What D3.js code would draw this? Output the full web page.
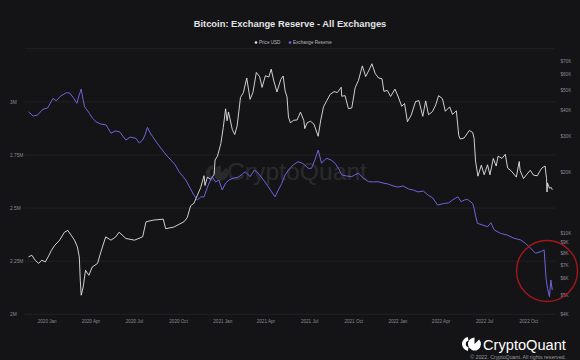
<!DOCTYPE html>
<html><head><meta charset="utf-8">
<script src="https://cdn.jsdelivr.net/npm/d3@7"></script>
<style>
html,body{margin:0;padding:0;background:#141417;}
svg{display:block;}
text{font-family:"Liberation Sans",Arial,sans-serif;}
</style></head><body>
<svg id="chart" width="580" height="360"></svg>
<script>
const reserveDates = ["2019-11-24","2019-12-04","2019-12-13","2019-12-24","2020-01-03","2020-01-14","2020-01-21","2020-01-30","2020-02-11","2020-02-18","2020-02-26","2020-03-04","2020-03-08","2020-03-13","2020-03-17","2020-03-20","2020-03-30","2020-04-05","2020-04-13","2020-04-22","2020-05-04","2020-05-14","2020-05-23","2020-06-01","2020-06-14","2020-06-23","2020-07-05","2020-07-12","2020-07-19","2020-07-24","2020-07-29","2020-08-04","2020-08-09","2020-08-18","2020-08-29","2020-09-08","2020-09-16","2020-09-25","2020-10-03","2020-10-17","2020-10-26","2020-11-03","2020-11-10","2020-11-17","2020-11-24","2020-12-02","2020-12-11","2020-12-18","2020-12-25","2021-01-01","2021-01-08","2021-01-15","2021-01-25","2021-02-04","2021-02-18","2021-02-28","2021-03-09","2021-03-17","2021-03-28","2021-04-07","2021-04-14","2021-04-21","2021-04-28","2021-05-05","2021-05-12","2021-05-19","2021-05-29","2021-06-08","2021-06-16","2021-06-22","2021-06-29","2021-07-06","2021-07-13","2021-07-20","2021-07-27","2021-08-02","2021-08-07","2021-08-16","2021-08-24","2021-08-31","2021-09-07","2021-09-17","2021-09-28","2021-10-04","2021-10-12","2021-10-22","2021-11-02","2021-11-12","2021-11-22","2021-12-02","2021-12-13","2021-12-23","2022-01-03","2022-01-13","2022-01-24","2022-02-03","2022-02-13","2022-02-24","2022-03-06","2022-03-16","2022-03-26","2022-04-09","2022-04-18","2022-04-26","2022-05-07","2022-05-14","2022-05-21","2022-05-27","2022-06-07","2022-06-10","2022-06-13","2022-06-17","2022-06-28","2022-07-08","2022-07-15","2022-07-22","2022-08-04","2022-08-18","2022-09-01","2022-09-15","2022-09-25","2022-10-06","2022-10-16","2022-10-27","2022-11-03","2022-11-07","2022-11-10","2022-11-14","2022-11-17","2022-11-20"];
const reserveValues = [2.953,2.933,2.938,2.965,2.971,3.016,3.005,3.027,3.043,3.041,3.018,2.993,3.027,3.060,3.008,2.977,2.946,2.924,2.906,2.896,2.891,2.852,2.863,2.859,2.820,2.834,2.828,2.806,2.820,2.844,2.880,2.853,2.836,2.806,2.773,2.745,2.726,2.703,2.671,2.632,2.594,2.561,2.538,2.552,2.553,2.604,2.648,2.623,2.632,2.585,2.618,2.632,2.641,2.646,2.671,2.648,2.679,2.664,2.632,2.600,2.576,2.553,2.585,2.616,2.656,2.679,2.703,2.718,2.712,2.703,2.687,2.687,2.726,2.773,2.711,2.726,2.734,2.726,2.711,2.688,2.656,2.651,2.648,2.656,2.664,2.641,2.624,2.623,2.624,2.618,2.613,2.604,2.599,2.604,2.590,2.585,2.576,2.580,2.561,2.547,2.514,2.522,2.524,2.538,2.553,2.530,2.538,2.541,2.522,2.499,2.463,2.428,2.420,2.412,2.431,2.397,2.381,2.373,2.358,2.350,2.334,2.311,2.287,2.295,2.303,2.169,2.122,2.083,2.161,2.114];
const priceDates = ["2019-11-24","2019-12-01","2019-12-08","2019-12-15","2019-12-22","2019-12-29","2020-01-04","2020-01-11","2020-01-18","2020-01-28","2020-02-07","2020-02-14","2020-02-21","2020-02-28","2020-03-05","2020-03-09","2020-03-11","2020-03-13","2020-03-17","2020-03-22","2020-03-29","2020-04-05","2020-04-16","2020-04-23","2020-05-03","2020-05-14","2020-05-24","2020-05-31","2020-06-14","2020-07-02","2020-07-19","2020-07-26","2020-08-10","2020-08-31","2020-09-05","2020-09-22","2020-10-13","2020-10-20","2020-10-27","2020-11-03","2020-11-10","2020-11-17","2020-11-24","2020-11-26","2020-12-01","2020-12-08","2020-12-15","2020-12-17","2020-12-22","2020-12-29","2021-01-03","2021-01-08","2021-01-11","2021-01-14","2021-01-22","2021-01-27","2021-02-01","2021-02-08","2021-02-14","2021-02-21","2021-02-28","2021-03-06","2021-03-13","2021-03-20","2021-03-25","2021-04-01","2021-04-08","2021-04-13","2021-04-18","2021-04-25","2021-05-03","2021-05-08","2021-05-12","2021-05-16","2021-05-19","2021-05-23","2021-05-30","2021-06-06","2021-06-13","2021-06-20","2021-06-22","2021-06-27","2021-07-04","2021-07-11","2021-07-20","2021-07-25","2021-07-31","2021-08-07","2021-08-14","2021-08-22","2021-08-29","2021-09-06","2021-09-07","2021-09-14","2021-09-21","2021-09-28","2021-10-05","2021-10-12","2021-10-20","2021-10-27","2021-11-03","2021-11-09","2021-11-16","2021-11-23","2021-11-30","2021-12-04","2021-12-11","2021-12-18","2021-12-27","2022-01-03","2022-01-10","2022-01-16","2022-01-22","2022-01-30","2022-02-08","2022-02-15","2022-02-23","2022-03-01","2022-03-07","2022-03-15","2022-03-22","2022-03-28","2022-04-05","2022-04-11","2022-04-20","2022-04-26","2022-05-04","2022-05-09","2022-05-12","2022-05-20","2022-05-31","2022-06-07","2022-06-10","2022-06-13","2022-06-18","2022-06-25","2022-07-01","2022-07-08","2022-07-13","2022-07-20","2022-07-26","2022-07-30","2022-08-07","2022-08-14","2022-08-19","2022-08-26","2022-09-06","2022-09-12","2022-09-14","2022-09-21","2022-09-28","2022-10-05","2022-10-12","2022-10-20","2022-10-25","2022-10-29","2022-11-05","2022-11-08","2022-11-09","2022-11-10","2022-11-14","2022-11-18","2022-11-20"];
const priceValues = [7640,7790,7360,7100,7360,7220,7640,8240,8720,9230,10100,10300,9770,9230,8550,7640,5870,4960,5440,6570,6210,6820,7100,8090,9580,9230,9580,10100,9410,9230,9580,11350,11570,11700,10500,10700,11350,11900,13600,14000,15300,16700,19100,17100,18800,18300,19400,22800,23800,27400,32800,40600,35500,39200,32100,30400,33500,46200,48700,57500,45200,48900,61200,58300,51700,59000,58100,63500,56200,49100,56600,58800,49700,46400,37000,34700,35700,35800,39100,35600,32500,34700,35300,34200,29800,35400,41500,44600,47800,49300,48800,51800,46800,47100,40700,41000,51500,56000,65900,58400,62900,67500,60300,57500,57000,49400,50000,46700,50700,46400,41800,43100,35100,37900,44100,44500,37300,44400,38000,39300,42400,47100,45500,39500,41500,38100,39700,30100,28900,29200,31800,31100,29100,22500,19000,21500,19300,21600,19300,23200,21300,23800,23200,24300,20800,20200,18800,22400,20200,18500,19400,20300,19200,19100,20100,20800,21300,18500,15900,17600,16600,16700,16300];
const leftTicks = [2000000,2250000,2500000,2750000,3000000,3250000];
const leftTickLabels = ["2M","2.25M","2.5M","2.75M","3M",""];
const rightTicks = [4000,5000,6000,7000,8000,9000,10000,20000,30000,40000,50000,60000,70000];
const rightTickLabels = ["$4K","$5K","$6K","$7K","$8K","$9K","$10K","$20K","$30K","$40K","$50K","$60K","$70K"];
const seriesNames = ["Price USD","Exchange Reserve"];
const titleText = "Bitcoin: Exchange Reserve - All Exchanges";

const parse = d3.utcParse("%Y-%m-%d");
const reserve = reserveDates.map((d,i)=>({date:parse(d), v:reserveValues[i]*1e6}));
const price = priceDates.map((d,i)=>({date:parse(d), v:priceValues[i]}));

const BG="#141417", BLUE="#6d64dc", WHITE="#e4e4e6", GRID="#26262b", LBL="#8a8a90";
const svg = d3.select("#chart");
svg.append("rect").attr("width",580).attr("height",360).attr("fill",BG);

const x = d3.scaleUtc().domain([parse("2019-11-22"), parse("2022-11-20")]).range([27.5, 552.3]);
const yL = d3.scaleLinear().domain([2000000, 3250000]).range([314.3, 48.7]);
const yR = d3.scaleLog().domain([4000, 80000]).range([314.3, 48.7]);

function fitText(sel, w){ const n=sel.node(); const cur=n.getComputedTextLength(); const fs=parseFloat(sel.attr("font-size")); sel.attr("font-size", fs*w/cur); }

// Title
const t = svg.append("text").attr("x",290).attr("y",26.5).attr("text-anchor","middle")
  .attr("font-weight","bold").attr("font-size",10).attr("fill","#e2e2e4").text(titleText);
fitText(t,193);

// legend
const leg = svg.append("g");
[[256,WHITE],[290,BLUE]].forEach((p,i)=>{
  leg.append("circle").attr("cx",p[0]).attr("cy",42.5).attr("r",1.3).attr("fill",p[1]);
  leg.append("text").attr("x",p[0]+3).attr("y",44.1).attr("font-size",4.6).attr("fill","#b8b8bc").text(seriesNames[i]);
});

// gridlines
svg.append("g").selectAll("line").data(leftTicks).join("line")
  .attr("x1",25).attr("x2",555).attr("y1",d=>yL(d)).attr("y2",d=>yL(d))
  .attr("stroke",GRID).attr("stroke-width",0.7);

// watermark
const wm = svg.append("g").attr("opacity",0.09);
wm.append("path").attr("d", d3.arc()({innerRadius:4,outerRadius:8,startAngle:Math.PI*1.05,endAngle:Math.PI*1.95})).attr("transform","translate(214,173)").attr("fill","#fff");
wm.append("path").attr("d", d3.arc()({innerRadius:0,outerRadius:7.5,startAngle:Math.PI*0.25,endAngle:Math.PI*2.0})).attr("transform","translate(221,173)").attr("fill","#fff");
const wt = wm.append("text").attr("x",227).attr("y",180).attr("font-size",22).attr("fill","#fff").text("CryptoQuant");
fitText(wt,140);

// axes
const xTicks = d3.utcMonth.every(3).range(parse("2020-01-01"), parse("2022-10-02"));
const gx = svg.append("g").attr("transform","translate(0,314.3)")
  .call(d3.axisBottom(x).tickValues(xTicks).tickFormat(d3.utcFormat("%Y %b")).tickSize(0).tickPadding(5));
gx.select(".domain").remove();
gx.selectAll("text").attr("font-size",4.6).attr("fill",LBL).attr("font-family","Liberation Sans, Arial");

const gl = svg.append("g").attr("transform","translate(10,0)")
  .call(d3.axisRight(yL).tickValues(leftTicks).tickFormat((d,i)=>leftTickLabels[i]).tickSize(0).tickPadding(0));
gl.select(".domain").remove();
gl.selectAll("text").attr("font-size",4.8).attr("fill",LBL).attr("font-family","Liberation Sans, Arial");

const gr = svg.append("g").attr("transform","translate(560.5,0)")
  .call(d3.axisRight(yR).tickValues(rightTicks).tickFormat((d,i)=>rightTickLabels[i]).tickSize(0).tickPadding(0));
gr.select(".domain").remove();
gr.selectAll("text").attr("font-size",4.6).attr("fill",LBL).attr("font-family","Liberation Sans, Arial");

// lines
svg.append("path").datum(price).attr("fill","none").attr("stroke",WHITE).attr("stroke-width",0.9)
  .attr("stroke-linejoin","round")
  .attr("d", d3.line().x(d=>x(d.date)).y(d=>yR(d.v)));
svg.append("path").datum(reserve).attr("fill","none").attr("stroke",BLUE).attr("stroke-width",1)
  .attr("stroke-linejoin","round")
  .attr("d", d3.line().x(d=>x(d.date)).y(d=>yL(d.v)));

// annotation circle
svg.append("circle").attr("cx",x(parse("2022-11-09"))).attr("cy",yL(2204000)).attr("r",30.5)
  .attr("fill","none").attr("stroke","#a3171b").attr("stroke-width",1.4);

// logo
const lg = svg.append("g");
lg.append("path").attr("d", d3.arc()({innerRadius:3.2,outerRadius:7,startAngle:Math.PI*1.05,endAngle:Math.PI*1.95})).attr("transform","translate(469,344)").attr("fill","#fff");
lg.append("path").attr("d", d3.arc()({innerRadius:0,outerRadius:6.5,startAngle:Math.PI*0.25,endAngle:Math.PI*2.0})).attr("transform","translate(474.5,344)").attr("fill","#fff");
const lt = lg.append("text").attr("x",483).attr("y",349.5).attr("font-size",16).attr("fill","#fff").text("CryptoQuant");
fitText(lt,83);
const ct = svg.append("text").attr("x",566).attr("y",358.5).attr("text-anchor","end").attr("font-size",4.6).attr("fill","#9a9aa0").text("© 2022. CryptoQuant. All rights reserved.");
fitText(ct,96);
</script>
</body></html>
